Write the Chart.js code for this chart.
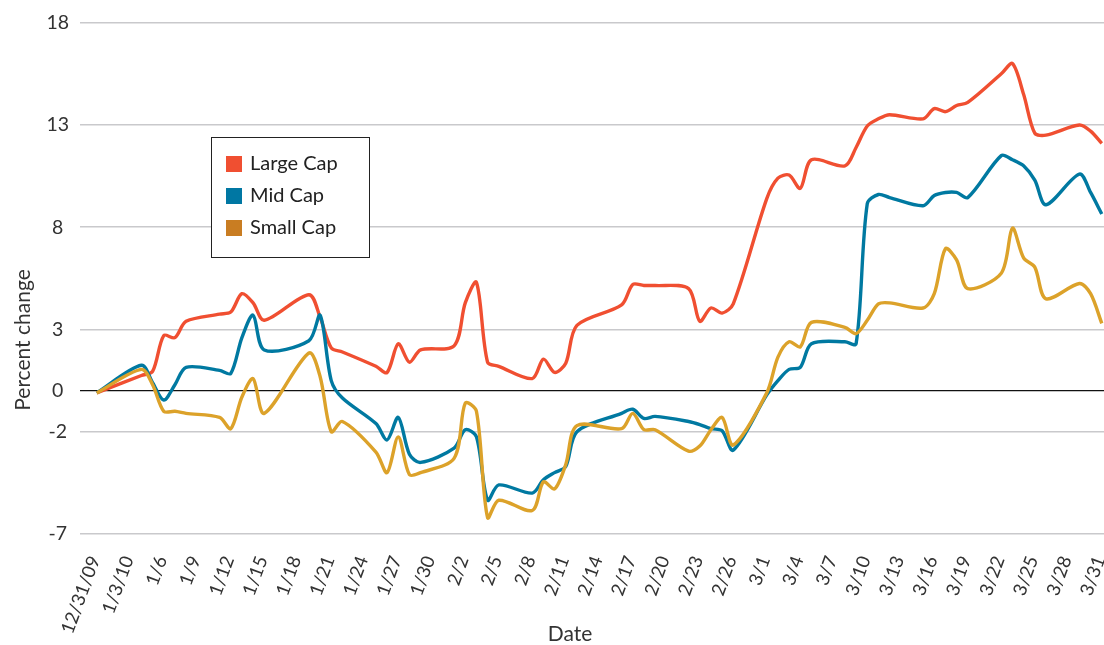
<!DOCTYPE html>
<html>
<head>
<meta charset="utf-8">
<script src="https://cdn.jsdelivr.net/npm/chart.js@4.4.1/dist/chart.umd.min.js"></script>
<style>
  html, body { margin: 0; padding: 0; background: #fff; }
  #wrap { width: 1104px; height: 645px; position: relative; }
</style>
</head>
<body>
<div id="wrap"><canvas id="lineChart"></canvas></div>
<script>
// days since 12/31/09 for each trading day
const tradingDays = [0, 4, 5, 6, 7, 8, 11, 12, 13, 14, 15, 19, 20, 21, 22, 25, 26, 27, 28, 29,
  32, 33, 34, 35, 36, 39, 40, 41, 42, 43, 47, 48, 49, 50, 53, 54, 55, 56, 57,
  60, 61, 62, 63, 64, 67, 68, 69, 70, 71, 74, 75, 76, 77, 78, 81, 82, 83, 84, 85, 88, 89, 90];

const largeCap = [-0.1, 0.75, 0.95, 2.7, 2.6, 3.4, 3.75, 3.85, 4.75, 4.3, 3.45, 4.7, 3.6, 2.1, 1.9, 1.2, 0.9, 2.3, 1.4, 2.0,
  2.2, 4.3, 5.3, 1.4, 1.2, 0.6, 1.55, 0.9, 1.35, 3.2, 4.2, 5.2, 5.15, 5.15, 5.0, 3.4, 4.05, 3.8, 4.25,
  9.4, 10.4, 10.55, 9.9, 11.3, 11.0, 11.9, 12.95, 13.3, 13.5, 13.3, 13.8, 13.65, 13.95, 14.1, 15.5, 16.0, 14.5, 12.6, 12.5, 13.0, 12.7, 12.1];

const midCap = [-0.1, 1.25, 0.4, -0.45, 0.3, 1.15, 1.0, 0.85, 2.6, 3.7, 2.0, 2.45, 3.7, 0.5, -0.35, -1.6, -2.4, -1.3, -3.1, -3.5,
  -2.8, -1.9, -2.25, -5.35, -4.6, -5.0, -4.35, -4.0, -3.7, -2.0, -1.1, -0.9, -1.35, -1.25, -1.5, -1.65, -1.85, -1.95, -2.9,
  -0.2, 0.5, 1.05, 1.15, 2.3, 2.4, 2.3, 9.15, 9.6, 9.45, 9.05, 9.55, 9.7, 9.7, 9.45, 11.5, 11.3, 11.0, 10.3, 9.1, 10.6, 9.7, 8.65];

const smallCap = [-0.1, 1.05, 0.3, -1.0, -1.0, -1.1, -1.3, -1.85, -0.3, 0.6, -1.1, 1.85, 0.7, -2.0, -1.5, -3.0, -4.0, -2.25, -4.1, -4.0,
  -3.3, -0.6, -1.0, -6.2, -5.35, -5.85, -4.45, -4.8, -3.6, -1.7, -1.85, -1.1, -1.9, -1.9, -2.95, -2.7, -1.9, -1.3, -2.65,
  -0.1, 1.65, 2.4, 2.15, 3.35, 3.1, 2.8, 3.45, 4.25, 4.3, 4.05, 4.75, 6.95, 6.4, 5.0, 5.75, 7.95, 6.5, 6.05, 4.5, 5.25, 4.75, 3.3];

// x tick labels, one every 3 days starting 12/31/09
const tickLabels = ['12/31/09', '1/3/10', '1/6', '1/9', '1/12', '1/15', '1/18', '1/21', '1/24', '1/27', '1/30',
  '2/2', '2/5', '2/8', '2/11', '2/14', '2/17', '2/20', '2/23', '2/26',
  '3/1', '3/4', '3/7', '3/10', '3/13', '3/16', '3/19', '3/22', '3/25', '3/28', '3/31'];
const tickDays = tickLabels.map((_, i) => i * 3);

const yTicks = [-7, -2, 0, 3, 8, 13, 18];

const seriesNames = ['Large Cap', 'Mid Cap', 'Small Cap'];
const lineColors = ['#f04f31', '#0079a1', '#dca22a'];
const legendColors = ['#f04f31', '#0077a3', '#c97d22'];

const FONT = 'Lato, "Open Sans", sans-serif';

const toPoints = (vals) => tradingDays.map((d, i) => ({ x: d, y: vals[i] }));

// legend box + axis titles drawn by hand
const decorations = {
  id: 'decorations',
  afterDraw(chart) {
    const ctx = chart.ctx;
    ctx.save();
    // legend
    ctx.fillStyle = '#fff';
    ctx.fillRect(211, 137, 159, 121);
    ctx.strokeStyle = '#222';
    ctx.lineWidth = 1;
    ctx.strokeRect(211.5, 137.5, 158, 120);
    ctx.font = '20px ' + FONT;
    ctx.textBaseline = 'middle';
    ctx.textAlign = 'left';
    seriesNames.forEach((name, i) => {
      const cy = 164 + i * 32;
      ctx.fillStyle = legendColors[i];
      ctx.fillRect(226, cy - 8, 16, 16);
      ctx.fillStyle = '#222';
      ctx.fillText(name, 250, cy);
    });
    // axis titles
    ctx.fillStyle = '#333';
    ctx.font = '21px ' + FONT;
    ctx.textAlign = 'center';
    ctx.fillText('Date', 570, 634);
    ctx.translate(23, 340);
    ctx.rotate(-Math.PI / 2);
    ctx.fillText('Percent change', 0, 0);
    ctx.restore();
  }
};

const ctx = document.getElementById('lineChart').getContext('2d');
const lineChart = new Chart(ctx, {
  type: 'line',
  data: {
    datasets: [largeCap, midCap, smallCap].map((vals, i) => ({
      label: seriesNames[i],
      data: toPoints(vals),
      borderColor: lineColors[i],
      backgroundColor: legendColors[i],
      borderWidth: 3.4,
      pointRadius: 0,
      tension: 0.3,
      fill: false
    })).reverse() // small cap drawn first, large cap on top
  },
  options: {
    responsive: true,
    maintainAspectRatio: false,
    animation: false,
    layout: { padding: { top: 22, right: 0, left: 0, bottom: 0 } },
    plugins: {
      legend: { display: false },
      tooltip: { enabled: false }
    },
    scales: {
      x: {
        type: 'linear',
        min: -1.5,
        max: 90.2,
        afterBuildTicks: (scale) => { scale.ticks = tickDays.map(v => ({ value: v })); },
        afterFit: (scale) => { scale.height = 111; scale.paddingRight = 0; scale.paddingLeft = 0; },
        grid: { display: false, drawTicks: false },
        border: { display: false },
        ticks: {
          autoSkip: false,
          minRotation: 70,
          maxRotation: 70,
          padding: 19,
          labelOffset: -2,
          color: '#333',
          font: { family: FONT, size: 18.5 },
          callback: (value) => tickLabels[tickDays.indexOf(value)]
        }
      },
      y: {
        min: -7,
        max: 18,
        afterBuildTicks: (scale) => { scale.ticks = yTicks.map(v => ({ value: v })); },
        afterFit: (scale) => { scale.width = 80; },
        grid: {
          drawTicks: false,
          color: (c) => c.tick && c.tick.value === 0 ? '#111' : '#c9c9cc',
          lineWidth: (c) => c.tick && c.tick.value === 0 ? 1.3 : 1.6
        },
        border: { display: false },
        ticks: {
          padding: 11,
          crossAlign: 'center',
          color: '#333',
          font: { family: FONT, size: 19.5 }
        }
      }
    }
  },
  plugins: [decorations]
});
</script>
</body>
</html>
